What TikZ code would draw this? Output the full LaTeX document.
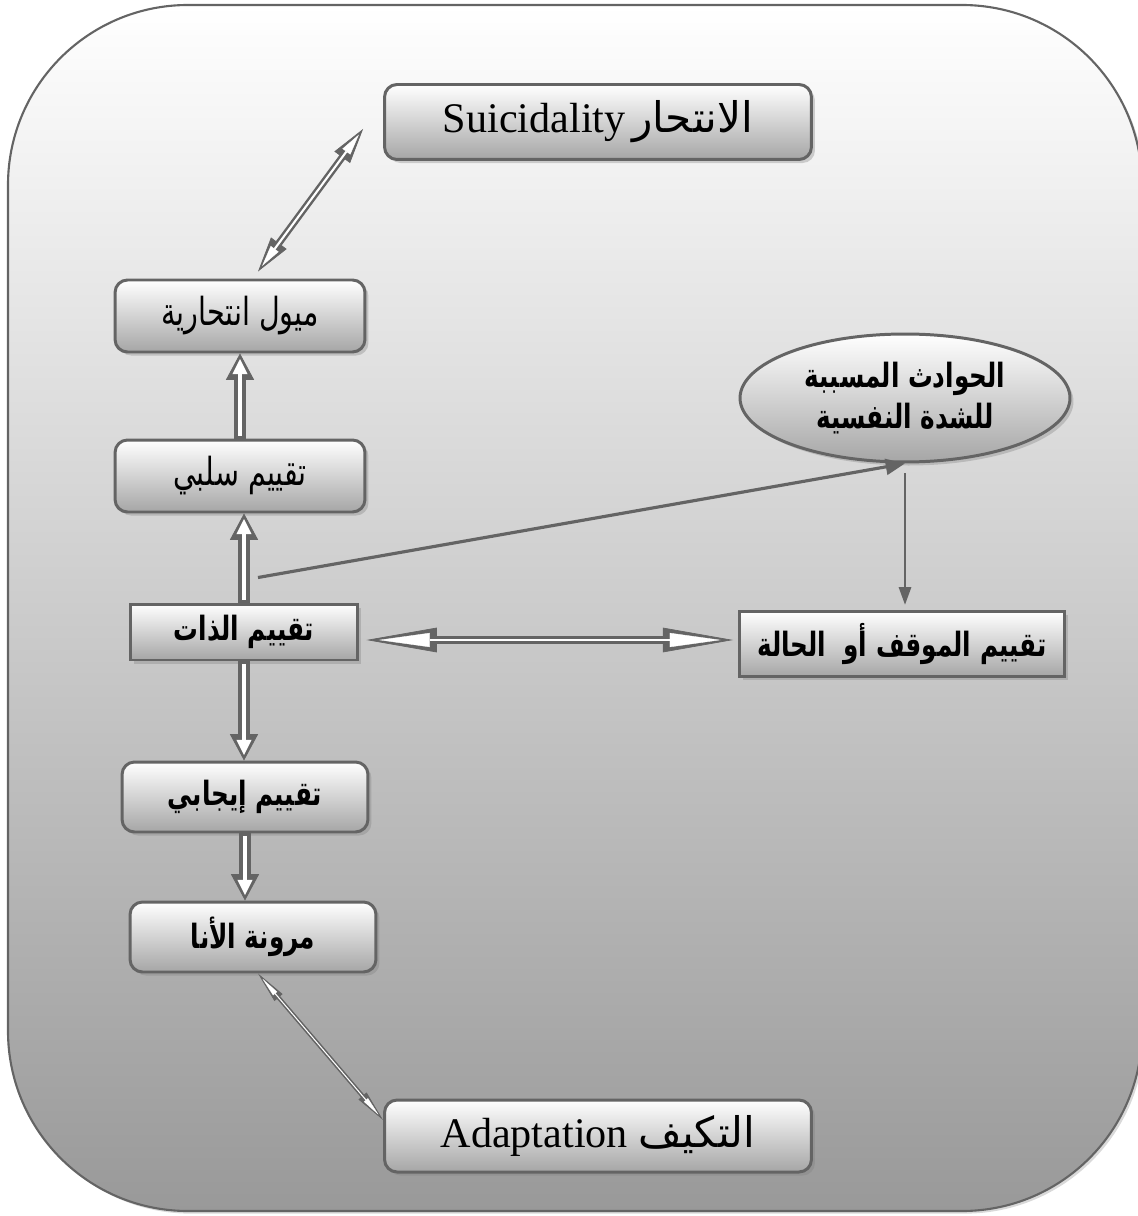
\documentclass[tikz,border=0pt]{standalone}
\usepackage{fontspec}
\setmainfont{Liberation Serif}
\newfontfamily\arabicfont[Script=Arabic]{DejaVu Sans}
\newfontfamily\arabicnarrow[Script=Arabic, FakeStretch=0.74]{DejaVu Sans}
\TeXXeTstate=1
\usetikzlibrary{arrows.meta, shapes.geometric, shadows}

\definecolor{linegray}{RGB}{100,100,100}
\newcommand{\arwide}[1]{{\arabicfont\beginR #1\endR}}
\newcommand{\artxt}[1]{{\arabicnarrow\beginR #1\endR}}

\tikzset{
  box/.style={draw=linegray, line width=1.7pt, top color=white, bottom color=gray!70,
    drop shadow={shadow xshift=2pt, shadow yshift=-2pt, opacity=0.35},
    align=center, inner sep=0pt},
  roundbox/.style={box, rounded corners=0.25cm},
  plainfont/.style={font=\fontsize{24}{28}\selectfont},
  narrowfont/.style={font=\fontsize{22}{26}\selectfont},
  boldfont/.style={font=\fontsize{19}{23}\selectfont\bfseries},
  % hollow arrows: dark outline, white core
  fatarrow/.style={draw=linegray, line width=6.5pt,
    -{Triangle[length=15pt, width=16pt, line width=0.4pt]},
    postaction={draw=white, line width=2.6pt,
      -{Triangle[length=8.5pt, width=8.5pt, line width=0.2pt]},
      shorten <=1.6pt, shorten >=3.2pt}},
  hollowboth/.style={draw=linegray, line width=4.5pt,
    {Triangle[length=40pt, width=14pt, line width=0.4pt]}-{Triangle[length=40pt, width=14pt, line width=0.4pt]},
    postaction={draw=white, line width=1.4pt,
      {Triangle[length=29pt, width=8pt, line width=0.2pt]}-{Triangle[length=29pt, width=8pt, line width=0.2pt]},
      shorten <=7pt, shorten >=7pt}},
  thinboth/.style={draw=linegray, line width=4pt,
    {Triangle[length=20pt, width=11pt, line width=0.4pt]}-{Triangle[length=20pt, width=11pt, line width=0.4pt]},
    postaction={draw=white, line width=1.2pt,
      {Triangle[length=12pt, width=5.5pt, line width=0.2pt]}-{Triangle[length=12pt, width=5.5pt, line width=0.2pt]},
      shorten <=4pt, shorten >=4pt}},
  slimboth/.style={draw=linegray, line width=2.4pt,
    {Triangle[length=18pt, width=6pt, line width=0.4pt]}-{Triangle[length=18pt, width=6pt, line width=0.4pt]},
    postaction={draw=white, line width=0.6pt,
      {Triangle[length=11pt, width=3pt, line width=0.1pt]}-{Triangle[length=11pt, width=3pt, line width=0.1pt]},
      shorten <=4pt, shorten >=4pt}},
  solidarrow/.style={draw=linegray, line width=1.8pt, -{Triangle[length=11pt, width=9pt]}},
  solidthin/.style={draw=linegray, line width=1.1pt, -{Triangle[length=10pt, width=7pt]}},
}

\begin{document}
\begin{tikzpicture}[x=0.02cm, y=-0.02cm]
  \useasboundingbox (0,0) rectangle (1138,1216);

  % Frame
  \draw[draw=linegray, line width=1.2pt, rounded corners=3.6cm, top color=white, bottom color=gray!80,
    drop shadow={shadow xshift=1.5pt, shadow yshift=-1.5pt, opacity=0.3}]
    (8,5) rectangle (1142,1211);

  % Boxes
  \node[roundbox, minimum width=8.54cm, minimum height=1.5cm, plainfont] (suic) at (598,122)
    {Suicidality\,\arwide{الانتحار}};
  \node[roundbox, minimum width=5cm, minimum height=1.44cm, narrowfont] (tend) at (240,316)
    {\artxt{ميول انتحارية}};
  \node[roundbox, minimum width=5cm, minimum height=1.44cm, narrowfont] (neg) at (240,476)
    {\artxt{تقييم سلبي}};
  \node[box, minimum width=4.56cm, minimum height=1.12cm, boldfont] (self) at (244,632)
    {\artxt{تقييم الذات}};
  \node[box, minimum width=6.5cm, minimum height=1.3cm, boldfont] (situ) at (902,644)
    {\artxt{تقييم الموقف أو~ الحالة}};
  \node[box, ellipse, minimum width=6.6cm, minimum height=2.56cm, boldfont] (events) at (905,398)
    {\artxt{الحوادث المسببة}\\\artxt{للشدة النفسية}};
  \node[roundbox, minimum width=4.92cm, minimum height=1.4cm, boldfont] (pos) at (245,797)
    {\artxt{تقييم إيجابي}};
  \node[roundbox, minimum width=4.92cm, minimum height=1.4cm, boldfont] (ego) at (253,937)
    {\artxt{مرونة الأنا}};
  \node[roundbox, minimum width=8.54cm, minimum height=1.44cm, plainfont] (adapt) at (598,1136)
    {Adaptation \arwide{التكيف}};

  % Arrows
  \draw[thinboth] ([xshift=0.36cm, yshift=0.14cm]tend.north) -- ([xshift=-0.4cm, yshift=0.64cm]suic.south west);
  \draw[fatarrow] (neg.north) -- (tend.south);
  \draw[fatarrow] (self.north) -- (self.north |- neg.south);
  \draw[solidarrow] ([xshift=0.28cm, yshift=0.5cm]self.north) -- (events.south);
  \draw[solidthin, shorten >=3pt] ([yshift=-0.2cm]events.south) -- (events.south |- situ.north);
  \draw[hollowboth] ([yshift=-0.16cm, xshift=0.14cm]self.east) -- ([yshift=-0.16cm, xshift=-0.1cm]self.east -| situ.west);
  \draw[fatarrow] (self.south) -- (self.south |- pos.north);
  \draw[fatarrow] (pos.south) -- (pos.south |- ego.north);
  \draw[slimboth] ([xshift=0.1cm]ego.south) -- ([yshift=0.32cm]adapt.west);

\end{tikzpicture}
\end{document}
